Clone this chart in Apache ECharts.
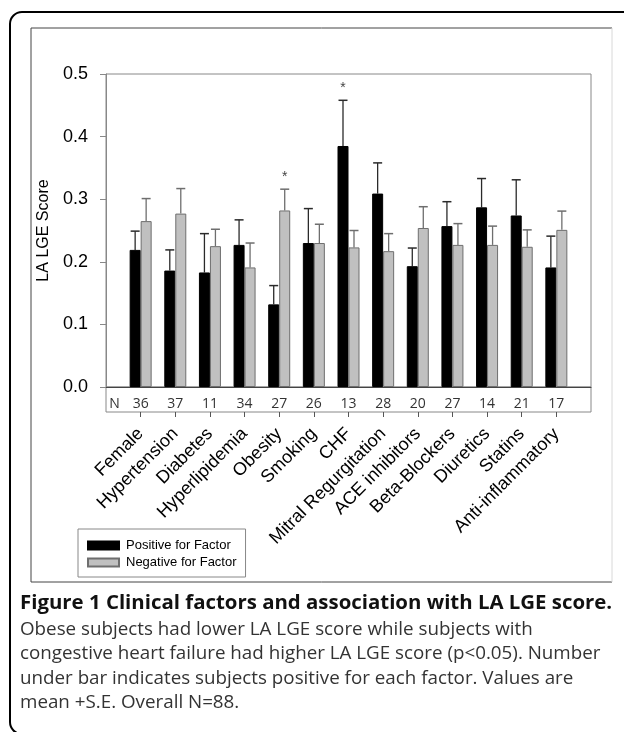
<!DOCTYPE html>
<html>
<head>
<meta charset="utf-8">
<script src="https://cdn.jsdelivr.net/npm/echarts@6/dist/echarts.min.js"></script>
<style>
html,body{margin:0;padding:0;background:#fff;}
#chart{width:624px;height:732px;}
</style>
</head>
<body>
<div id="chart"></div>
<script>
// ---- data ----
const categories = ['Female', 'Hypertension', 'Diabetes', 'Hyperlipidemia', 'Obesity', 'Smoking', 'CHF',
  'Mitral Regurgitation', 'ACE inhibitors', 'Beta-Blockers', 'Diuretics', 'Statins', 'Anti-inflammatory'];
const nPositive = [36, 37, 11, 34, 27, 26, 13, 28, 20, 27, 14, 21, 17];
const positiveMean = [0.219, 0.186, 0.183, 0.227, 0.132, 0.230, 0.385, 0.309, 0.193, 0.257, 0.287, 0.274, 0.191];
const positiveSE   = [0.030, 0.033, 0.062, 0.040, 0.030, 0.055, 0.073, 0.049, 0.029, 0.039, 0.046, 0.057, 0.050];
const negativeMean = [0.265, 0.277, 0.225, 0.191, 0.282, 0.230, 0.223, 0.217, 0.254, 0.227, 0.227, 0.224, 0.251];
const negativeSE   = [0.036, 0.040, 0.027, 0.039, 0.034, 0.030, 0.027, 0.028, 0.034, 0.034, 0.030, 0.027, 0.030];
const sigPositive  = [0, 0, 0, 0, 0, 0, 1, 0, 0, 0, 0, 0, 0];
const sigNegative  = [0, 0, 0, 0, 1, 0, 0, 0, 0, 0, 0, 0, 0];
const seriesNames = ['Positive for Factor', 'Negative for Factor'];
const yMin = 0, yMax = 0.5, yStep = 0.1;
const captionTitle = 'Figure 1 Clinical factors and association with LA LGE score.';
const captionLines = [
  'Obese subjects had lower LA LGE score while subjects with',
  'congestive heart failure had higher LA LGE score (p<0.05). Number',
  'under bar indicates subjects positive for each factor. Values are',
  'mean +S.E. Overall N=88.'
];
const yAxisTitle = 'LA LGE Score';

// ---- build ----
const padCats = [''].concat(categories, ['']);
const pad = arr => [null].concat(arr, [null]);
const BAR_W = 11;

function errData(mean, se, sig) {
  return mean.map((m, i) => [i + 1, m, m + se[i], sig[i]]);
}
function errRender(offset, color) {
  return function (params, api) {
    const x = api.value(0);
    const base = api.coord([x, api.value(1)]);
    const top = api.coord([x, api.value(2)]);
    const cx = base[0] + offset;
    const children = [
      {type: 'line', shape: {x1: cx, y1: base[1], x2: cx, y2: top[1]}, style: {stroke: color, lineWidth: 1.3}},
      {type: 'line', shape: {x1: cx - 4.5, y1: top[1], x2: cx + 4.5, y2: top[1]}, style: {stroke: color, lineWidth: 1.5}}
    ];
    if (api.value(3)) {
      children.push({type: 'text', style: {text: '*', x: cx, y: top[1] - 12, align: 'center', verticalAlign: 'middle',
        font: '14px "Liberation Sans", Arial', fill: '#444'}});
    }
    return {type: 'group', children: children};
  };
}

const chart = echarts.init(document.getElementById('chart'), null, {renderer: 'canvas'});
const FONT = '"Liberation Sans", Arial, sans-serif';

const graphics = [
  {type: 'rect', z: -10, shape: {x: 10, y: 12, width: 660, height: 722, r: 12},
    style: {fill: 'none', stroke: '#000', lineWidth: 2}},
  {type: 'polyline', z: -10, shape: {points: [[612, 582], [31, 582], [31, 28], [612, 28]]},
    style: {fill: 'none', stroke: '#444', lineWidth: 1}},
  {type: 'line', z: -10, shape: {x1: 612, y1: 28, x2: 612, y2: 582},
    style: {stroke: '#d8d8d8', lineWidth: 1}},
  {type: 'text', left: 20, top: 593, style: {text: captionTitle, font: 'bold 20.4px "Open Sans", sans-serif', fill: '#111'}}
];
captionLines.forEach((t, i) => {
  graphics.push({type: 'text', left: 20, top: 620 + i * 24.4,
    style: {text: t, font: '18.8px "Open Sans", sans-serif', fill: '#333'}});
});

const option = {
  animation: false,
  backgroundColor: '#fff',
  textStyle: {fontFamily: FONT},
  grid: [
    {left: 106, right: 33, top: 74, bottom: 345, show: true, borderColor: '#888', borderWidth: 1},
    {left: 106, right: 33, top: 387, bottom: 320, show: true, borderColor: '#888', borderWidth: 1}
  ],
  legend: {
    orient: 'vertical', left: 78, top: 529,
    padding: [9, 9, 7, 9], itemGap: 2, itemWidth: 31, itemHeight: 8,
    icon: 'rect',
    backgroundColor: '#fff', borderColor: '#888', borderWidth: 1,
    textStyle: {fontSize: 13, fontFamily: FONT, color: '#000', lineHeight: 15, padding: [0, 0, 0, 2]},
    data: seriesNames
  },
  xAxis: [
    {
      type: 'category', gridIndex: 0, data: padCats, boundaryGap: false,
      axisLine: {show: true, lineStyle: {color: '#444', width: 1}},
      axisTick: {show: false},
      splitLine: {show: false},
      axisLabel: {
        interval: 0, margin: 10, fontSize: 14, color: '#333', fontFamily: '"Open Sans", sans-serif',
        formatter: (v, i) => i === 0 ? '{n|N}' : (i <= nPositive.length ? String(nPositive[i - 1]) : ''),
        rich: {n: {padding: [0, 0, 0, 17], fontSize: 14, color: '#333', fontFamily: '"Open Sans", sans-serif'}}
      }
    },
    {
      type: 'category', gridIndex: 1, data: padCats, boundaryGap: false,
      axisLine: {show: false},
      axisTick: {show: true, length: 5, lineStyle: {color: '#555'},
        interval: (i) => i > 0 && i <= categories.length},
      splitLine: {show: false},
      axisLabel: {
        interval: (i) => i > 0 && i <= categories.length,
        rotate: 45, margin: 19, fontSize: 18, color: '#000', fontFamily: FONT
      }
    }
  ],
  yAxis: [
    {
      type: 'value', gridIndex: 0, min: yMin, max: yMax, interval: yStep,
      name: yAxisTitle, nameLocation: 'middle', nameGap: 48, nameRotate: 90,
      nameTextStyle: {fontSize: 16, color: '#000', fontFamily: FONT},
      axisLine: {show: true, lineStyle: {color: '#888'}},
      axisTick: {show: true, length: 6, lineStyle: {color: '#888'}},
      splitLine: {show: false},
      axisLabel: {margin: 18, fontSize: 18, color: '#000', fontFamily: FONT,
        formatter: v => v.toFixed(1)}
    },
    {
      type: 'value', gridIndex: 1, min: 0, max: 1, show: false
    }
  ],
  series: [
    {
      name: seriesNames[0], type: 'bar', xAxisIndex: 0, yAxisIndex: 0,
      data: pad(positiveMean), barWidth: BAR_W, barGap: '0%',
      itemStyle: {color: '#000', borderColor: '#000', borderWidth: 1}
    },
    {
      name: seriesNames[1], type: 'bar', xAxisIndex: 0, yAxisIndex: 0,
      data: pad(negativeMean), barWidth: BAR_W, barGap: '0%',
      itemStyle: {color: '#c0c0c0', borderColor: '#6e6e6e', borderWidth: 1}
    },
    {
      type: 'custom', xAxisIndex: 0, yAxisIndex: 0, z: 1,
      data: errData(positiveMean, positiveSE, sigPositive),
      renderItem: errRender(-BAR_W / 2, '#2a2a2a'),
      encode: {x: 0, y: [1, 2]}, silent: true
    },
    {
      type: 'custom', xAxisIndex: 0, yAxisIndex: 0, z: 1,
      data: errData(negativeMean, negativeSE, sigNegative),
      renderItem: errRender(BAR_W / 2, '#6e6e6e'),
      encode: {x: 0, y: [1, 2]}, silent: true
    }
  ],
  graphic: graphics
};
chart.setOption(option);
</script>
</body>
</html>
